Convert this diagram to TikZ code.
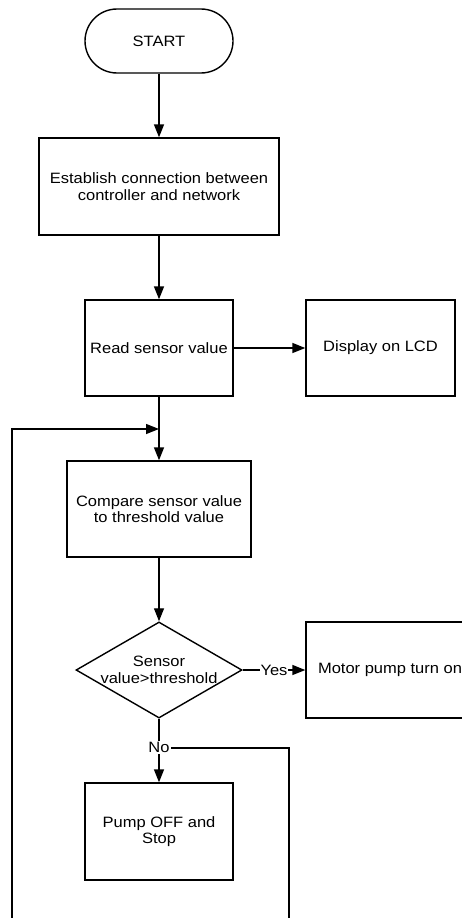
\documentclass[tikz,border=0pt]{standalone}
\usepackage{fontspec}
\setmainfont[FakeStretch=1.1]{Liberation Sans}
\usetikzlibrary{shapes.geometric,arrows.meta}
\begin{document}
\begin{tikzpicture}[x=1pt,y=-1pt,
  every node/.style={font=\fontsize{15}{16.5}\selectfont, align=center},
  box/.style={draw, line width=1.4pt, rectangle, inner sep=2pt},
  term/.style={draw, line width=1.4pt, rectangle, rounded corners=32pt, minimum width=148pt, minimum height=64pt},
  decision/.style={draw, line width=1.4pt, diamond, inner sep=-12pt, minimum width=166pt, minimum height=96pt},
  conn/.style={line width=1.4pt},
  arr/.style={line width=1.4pt, -{Triangle[length=13pt,width=10pt]}},
  lbl/.style={fill=white, inner sep=1pt}]
\useasboundingbox (0,0) rectangle (462,918);
\clip (0,0) rectangle (462,918);
\fill[white] (0,0) rectangle (462,918);

\node[term] (start) at (159,41) {START};
\node[box, minimum width=240pt, minimum height=97pt] (est) at (159,186.5) {Establish connection between\\controller and network};
\node[box, minimum width=148pt, minimum height=96pt] (read) at (159,348) {Read sensor value};
\node[box, minimum width=149pt, minimum height=96pt] (disp) at (380.5,348) {Display on LCD};
\node[box, minimum width=184pt, minimum height=96pt] (cmp) at (159,509) {Compare sensor value\\to threshold value};
\node[decision] (dec) at (159,670) {Sensor\\value>threshold};
\node[box, minimum width=168pt, minimum height=96pt] (motor) at (390,670) {Motor pump turn on};
\node[box, minimum width=148pt, minimum height=97pt] (pump) at (159,831.5) {Pump OFF and\\Stop};

\coordinate (j) at (159,429);
\coordinate (nj) at (159,748);
\coordinate (rb) at (289,940);
\coordinate (lb) at (12,940);

\draw[arr] (start) -- (est);
\draw[arr] (est) -- (read);
\draw[arr] (read) -- (disp);
\draw[arr] (read) -- (cmp);
\draw[arr] (cmp) -- (dec);
\draw[arr] (dec) -- node[lbl] {Yes} (motor);
\draw[arr] (nj) -| (rb) -- (lb) |- (j);
\draw[arr] (dec) -- node[lbl, pos=0.45] {No} (pump);
\end{tikzpicture}
\end{document}
